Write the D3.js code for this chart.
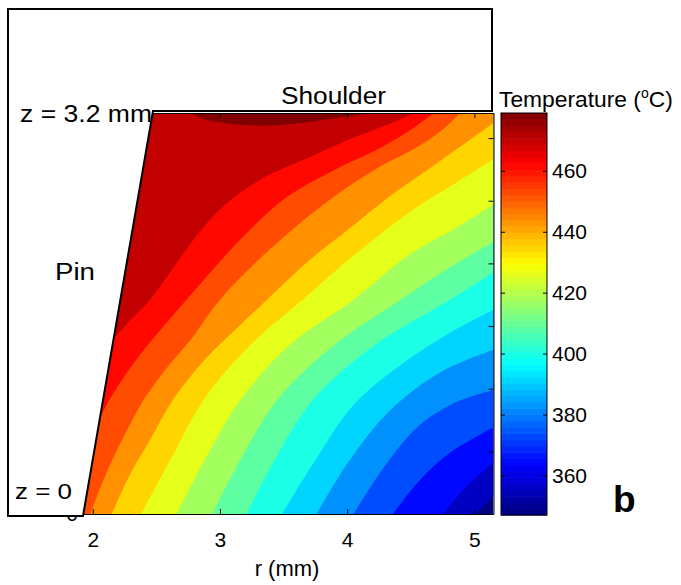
<!DOCTYPE html>
<html>
<head>
<meta charset="utf-8">
<script src="https://cdn.jsdelivr.net/npm/d3@7"></script>
<style>
  html, body { margin: 0; padding: 0; background: #fff; }
  svg { display: block; }
  text { font-family: "Liberation Sans", Arial, Helvetica, sans-serif; fill: #000; }
</style>
</head>
<body>
<svg id="chart" width="681" height="585"></svg>
<script>
// ---- data -------------------------------------------------------------
// Isotherm levels (°C) of the filled contour plot, lowest to highest.
const isothermT = [355.25, 363.5, 371.75, 380, 388.25, 396.5, 404.75, 413,
                   421.25, 429.5, 437.75, 446, 454.25, 462.5, 470.75];

// Position of each isotherm: radius r (mm) and height z (mm) along the line,
// running from the cold/bottom end towards the shoulder or the outer edge.
const isothermR = [
  [5.01, 5.09, 5.15],
  [4.75, 4.93, 5.15],
  [4.36, 4.57, 4.81, 5.15],
  [4.05, 4.30, 4.57, 4.85, 5.15],
  [3.76, 4.02, 4.34, 4.73, 5.15],
  [3.49, 3.75, 4.05, 4.45, 4.85, 5.15],
  [3.21, 3.43, 3.73, 4.22, 4.81, 5.15],
  [2.94, 3.16, 3.45, 3.90, 4.42, 4.81, 5.15],
  [2.66, 2.88, 3.16, 3.55, 4.05, 4.49, 4.85, 5.15],
  [2.38, 2.61, 2.87, 3.24, 3.65, 4.06, 4.52, 4.85, 5.15],
  [2.15, 2.29, 2.45, 2.63, 2.88, 3.12, 3.37, 3.71, 4.02, 4.34, 4.65, 4.93, 5.15],
  [1.98, 2.10, 2.24, 2.40, 2.57, 2.77, 3.00, 3.39, 3.84, 4.22, 4.52, 4.73, 4.89],
  [2.02, 2.12, 2.23, 2.41, 2.61, 2.84, 3.16, 3.50, 3.87, 4.26, 4.49, 4.68],
  [2.12, 2.28, 2.45, 2.65, 2.84, 3.04, 3.32, 3.69, 4.02, 4.30, 4.53],
  [2.77, 2.88, 3.12, 3.39, 3.71, 3.98, 4.20]
];
const isothermZ = [
  [0, 0.08, 0.15],
  [0, 0.21, 0.41],
  [0, 0.27, 0.49, 0.69],
  [0, 0.39, 0.71, 0.89, 0.99],
  [0, 0.43, 0.83, 1.13, 1.31],
  [0, 0.43, 0.87, 1.21, 1.47, 1.63],
  [0, 0.43, 0.91, 1.35, 1.71, 1.93],
  [0, 0.43, 0.91, 1.35, 1.71, 1.97, 2.17],
  [0, 0.43, 0.91, 1.35, 1.71, 2.07, 2.28, 2.47],
  [0, 0.43, 0.91, 1.35, 1.71, 2.07, 2.43, 2.64, 2.83],
  [0, 0.31, 0.59, 0.91, 1.23, 1.47, 1.71, 2.03, 2.28, 2.54, 2.76, 2.96, 3.12],
  [0, 0.31, 0.61, 0.91, 1.15, 1.39, 1.71, 2.11, 2.49, 2.75, 2.91, 3.05, 3.2],
  [0.69, 0.89, 1.07, 1.32, 1.56, 1.83, 2.19, 2.51, 2.73, 2.92, 3.06, 3.2],
  [1.35, 1.53, 1.71, 1.99, 2.25, 2.47, 2.67, 2.84, 2.99, 3.10, 3.2],
  [3.2, 3.15, 3.11, 3.10, 3.13, 3.17, 3.2]
];

const rTicks = [2, 3, 4, 5];
const zTicks = [0.5, 1, 1.5, 2, 2.5, 3];
const colorbarTicks = [360, 380, 400, 420, 440, 460];
const tempMin = 347, tempMax = 479;

// ---- helpers ----------------------------------------------------------
function jet(t) {
  const c = v => Math.max(0, Math.min(1, v));
  return d3.rgb(255 * c(1.5 - Math.abs(4 * t - 3)),
                255 * c(1.5 - Math.abs(4 * t - 2)),
                255 * c(1.5 - Math.abs(4 * t - 1))).formatHex();
}
// each band takes the colour of its lower bound; top band is the end of the map
const bandColor = d3.scaleLinear().domain([tempMin, isothermT[isothermT.length - 1]]).range([0, 1]);

const svg = d3.select("#chart");
const rMin = 1.9, rMax = 5.15, zMax = 3.2;
const x = d3.scaleLinear().domain([rMin, rMax]).range([80, 493.5]);
const y = d3.scaleLinear().domain([0, zMax]).range([514, 113]);

// ---- contour bands ----------------------------------------------------
svg.append("clipPath").attr("id", "plotClip")
  .append("rect")
  .attr("x", x(rMin)).attr("y", y(zMax))
  .attr("width", x(rMax) - x(rMin)).attr("height", y(0) - y(zMax));

const plot = svg.append("g").attr("clip-path", "url(#plotClip)");

plot.append("rect")
  .attr("x", x(rMin)).attr("y", y(zMax))
  .attr("width", x(rMax) - x(rMin)).attr("height", y(0) - y(zMax))
  .attr("fill", jet(bandColor(tempMin)));

const iso = d3.line().x(d => x(d[0])).y(d => y(d[1])).curve(d3.curveCatmullRom.alpha(0.5));

isothermT.forEach((t, i) => {
  const pts = isothermR[i].map((r, j) => [r, isothermZ[i][j]]);
  const first = pts[0], last = pts[pts.length - 1];
  const corners = [];
  if (last[0] >= rMax - 1e-6 && last[1] < zMax - 1e-6) corners.push([rMax, zMax]);
  if (first[1] < zMax - 1e-6) corners.push([rMin - 0.1, zMax], [rMin - 0.1, 0]);
  const d = iso(pts) + corners.map(p => `L${x(p[0])},${y(p[1])}`).join("") + "Z";
  plot.append("path").attr("d", d).attr("fill", jet(bandColor(t)));
});

// ---- axes -------------------------------------------------------------
function styleAxis(g) {
  g.attr("font-family", null).attr("font-size", null);
  g.selectAll("path, line").attr("stroke", "#000").attr("stroke-width", 1);
  g.selectAll("text").style("font-size", "21px");
}

svg.append("g").attr("transform", `translate(0,${y(0)})`)
  .call(d3.axisBottom(x).tickValues(rTicks).tickSizeInner(-5).tickSizeOuter(0).tickPadding(18).tickFormat(d3.format("d")))
  .call(styleAxis);
svg.append("g").attr("transform", `translate(0,${y(zMax)})`)
  .call(d3.axisTop(x).tickValues(rTicks).tickSizeInner(-5).tickSizeOuter(0).tickFormat(""))
  .call(styleAxis);
svg.append("g").attr("transform", `translate(${x(rMax)},0)`)
  .call(d3.axisRight(y).tickValues(zTicks).tickSizeInner(-5).tickSizeOuter(0).tickFormat(""))
  .call(styleAxis);
svg.append("g").attr("transform", `translate(${x(rMin)},0)`)
  .call(d3.axisLeft(y).tickValues([0]).tickSizeInner(-5).tickSizeOuter(0).tickPadding(2).tickFormat(d3.format("d")))
  .call(styleAxis);

svg.append("text").attr("x", 287).attr("y", 576)
  .attr("text-anchor", "middle").style("font-size", "22px").text("r (mm)");

// ---- tool outline (shoulder + pin) and labels --------------------------
const outline = [[8, 9], [492, 9], [492, 111], [153, 111], [83, 516], [8, 516]];
svg.append("path")
  .attr("d", d3.line()(outline) + "Z")
  .attr("fill", "#fff").attr("stroke", "#000").attr("stroke-width", 2)
  .attr("stroke-linejoin", "miter");

function label(txt, x0, base, size, len) {
  svg.append("text").attr("x", x0).attr("y", base)
    .style("font-size", size + "px")
    .attr("textLength", len).attr("lengthAdjust", "spacingAndGlyphs")
    .text(txt);
}
label("Shoulder", 281, 104, 23, 105);
label("z = 3.2 mm", 20, 122, 23, 132);
label("Pin", 55, 280, 23, 40);
label("z = 0", 15, 499, 22, 57);

// ---- colour bar ---------------------------------------------------------
const cbX0 = 501, cbX1 = 547;
const cy = d3.scaleLinear().domain([tempMin, tempMax]).range([515, 113]);
const nColors = 64;
const steps = d3.range(nColors);
const step = (tempMax - tempMin) / nColors;
svg.append("g").selectAll("rect").data(steps).join("rect")
  .attr("x", cbX0).attr("width", cbX1 - cbX0)
  .attr("y", i => cy(tempMin + (i + 1) * step))
  .attr("height", i => cy(tempMin + i * step) - cy(tempMin + (i + 1) * step) + 0.6)
  .attr("fill", i => jet((i + 0.5) / nColors));
svg.append("rect").attr("x", cbX0).attr("y", cy(tempMax))
  .attr("width", cbX1 - cbX0).attr("height", cy(tempMin) - cy(tempMax))
  .attr("fill", "none").attr("stroke", "#000").attr("stroke-width", 1);

svg.append("g").attr("transform", `translate(${cbX1},0)`)
  .call(d3.axisRight(cy).tickValues(colorbarTicks).tickSizeInner(-4).tickSizeOuter(0).tickPadding(5))
  .call(styleAxis)
  .call(g => g.select(".domain").remove());
svg.append("g").attr("transform", `translate(${cbX0},0)`)
  .call(d3.axisLeft(cy).tickValues(colorbarTicks).tickSizeInner(-4).tickSizeOuter(0).tickFormat(""))
  .call(styleAxis)
  .call(g => g.select(".domain").remove());

const title = svg.append("text").attr("x", 499).attr("y", 107).style("font-size", "22.8px");
title.append("tspan").text("Temperature (");
title.append("tspan").attr("dy", -9).style("font-size", "14px").text("o");
title.append("tspan").attr("dy", 9).text("C)");

svg.append("text").attr("x", 613).attr("y", 512)
  .style("font-size", "37px").style("font-weight", "bold").text("b");
</script>
</body>
</html>
